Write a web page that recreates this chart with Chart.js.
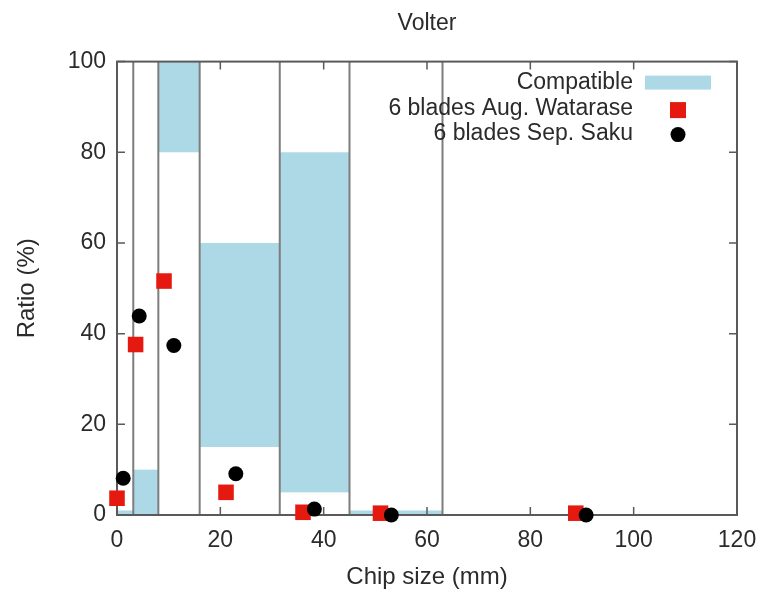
<!DOCTYPE html>
<html>
<head>
<meta charset="utf-8">
<script src="https://cdn.jsdelivr.net/npm/chart.js@4"></script>
<style>
  html, body { margin: 0; padding: 0; background: #fff; }
  #wrap { width: 765px; height: 593px; }
</style>
</head>
<body>
<div id="wrap"><canvas id="chip-ratio"></canvas></div>
<script>
// chip size classes (mm) and the "compatible" band for each class
const binEdges = [0, 3.15, 8, 16, 31.5, 45, 63];
const compatibleLow = [0, 0, 80, 15, 5, 0];
const compatibleHigh = [1, 10, 100, 60, 80, 1];

const watarseX = [0, 3.6, 9.1, 21.1, 36, 51, 88.8];
const watarseY = [3.7, 37.6, 51.6, 5.0, 0.6, 0.4, 0.4];
const sakuX = [1.2, 4.3, 11, 23, 38.2, 53.1, 90.8];
const sakuY = [8.1, 43.9, 37.4, 9.1, 1.3, 0, 0];

const xTicks = [0, 20, 40, 60, 80, 100, 120];
const yTicks = [0, 20, 40, 60, 80, 100];

const FONT = '"Liberation Sans", Arial, Helvetica, sans-serif';
const TEXT = '#2b2b2b';
const BLUE = '#add8e6';
const RED = '#e5190f';

const toPoints = (xs, ys) => xs.map((x, i) => ({ x: x, y: ys[i] }));

const bandsPlugin = {
  id: 'bands',
  beforeDatasetsDraw(chart) {
    const { ctx, chartArea, scales } = chart;
    const x = scales.x, y = scales.y;
    ctx.save();
    // compatible ranges
    ctx.fillStyle = BLUE;
    for (let i = 0; i < compatibleLow.length; i++) {
      const x0 = x.getPixelForValue(binEdges[i]);
      const x1 = x.getPixelForValue(binEdges[i + 1]);
      const y0 = y.getPixelForValue(compatibleHigh[i]);
      const y1 = y.getPixelForValue(compatibleLow[i]);
      ctx.fillRect(x0, y0, x1 - x0, y1 - y0);
    }
    // class boundaries
    ctx.strokeStyle = '#7d7d7d';
    ctx.lineWidth = 2;
    binEdges.slice(1).forEach((edge) => {
      const px = x.getPixelForValue(edge);
      ctx.beginPath();
      ctx.moveTo(px, chartArea.top);
      ctx.lineTo(px, chartArea.bottom);
      ctx.stroke();
    });
    // frame + inward ticks, gnuplot style
    ctx.strokeStyle = '#5a5a5a';
    ctx.strokeRect(chartArea.left, chartArea.top, chartArea.right - chartArea.left, chartArea.bottom - chartArea.top);
    ctx.lineWidth = 1.5;
    xTicks.forEach((v) => {
      const px = x.getPixelForValue(v);
      ctx.beginPath();
      ctx.moveTo(px, chartArea.bottom); ctx.lineTo(px, chartArea.bottom - 8);
      ctx.moveTo(px, chartArea.top); ctx.lineTo(px, chartArea.top + 8);
      ctx.stroke();
    });
    yTicks.forEach((v) => {
      const py = y.getPixelForValue(v);
      ctx.beginPath();
      ctx.moveTo(chartArea.left, py); ctx.lineTo(chartArea.left + 8, py);
      ctx.moveTo(chartArea.right, py); ctx.lineTo(chartArea.right - 8, py);
      ctx.stroke();
    });
    ctx.restore();
  }
};

const keyPlugin = {
  id: 'key',
  afterDatasetsDraw(chart) {
    const { ctx, chartArea } = chart;
    const textRight = chartArea.right - 104;
    const symX = chartArea.right - 59;
    const rows = [chartArea.top + 21, chartArea.top + 47, chartArea.top + 72];
    ctx.save();
    ctx.font = '23px ' + FONT;
    ctx.fillStyle = TEXT;
    ctx.textAlign = 'right';
    ctx.textBaseline = 'middle';
    ctx.fillText('Compatible', textRight, rows[0]);
    chart.data.datasets.slice().sort((a, b) => a.keyRow - b.keyRow).forEach((ds) => {
      ctx.fillStyle = TEXT;
      ctx.fillText(ds.label, textRight, rows[ds.keyRow]);
    });
    ctx.fillStyle = BLUE;
    ctx.fillRect(symX - 33, rows[0] - 7, 66, 14);
    ctx.fillStyle = RED;
    ctx.fillRect(symX - 8, rows[1] + 1.5 - 8, 16, 16);
    ctx.fillStyle = '#000';
    ctx.beginPath();
    ctx.arc(symX, rows[2] + 1, 7.5, 0, Math.PI * 2);
    ctx.fill();
    ctx.restore();
  }
};

const ctx = document.getElementById('chip-ratio').getContext('2d');
const chart = new Chart(ctx, {
  type: 'scatter',
  data: {
    datasets: [
      {
        label: '6 blades Aug. Watarase',
        keyRow: 1,
        data: toPoints(watarseX, watarseY),
        pointStyle: 'rect',
        pointRadius: 11,
        backgroundColor: RED,
        borderWidth: 0,
        order: 2,
        clip: false
      },
      {
        label: '6 blades Sep. Saku',
        keyRow: 2,
        data: toPoints(sakuX, sakuY),
        pointStyle: 'circle',
        pointRadius: 7.5,
        backgroundColor: '#000',
        borderWidth: 0,
        order: 1,
        clip: false
      }
    ]
  },
  options: {
    responsive: true,
    maintainAspectRatio: false,
    animation: false,
    layout: { padding: { left: 0, right: 28, top: 0, bottom: 0 } },
    scales: {
      x: {
        type: 'linear',
        min: 0,
        max: 120,
        afterBuildTicks: (scale) => { scale.ticks = xTicks.map((v) => ({ value: v })); },
        afterFit: (scale) => {
          scale.height = 78;
          scale.paddingLeft = 0;
          scale.paddingRight = 0;
        },
        grid: { display: false, drawTicks: false },
        border: { display: false },
        ticks: { color: TEXT, font: { family: FONT, size: 23 }, padding: 12, maxRotation: 0 },
        title: {
          display: true,
          text: 'Chip size (mm)',
          color: TEXT,
          font: { family: FONT, size: 24 },
          padding: { top: 4, bottom: 1 }
        }
      },
      y: {
        type: 'linear',
        min: 0,
        max: 100,
        afterBuildTicks: (scale) => { scale.ticks = yTicks.map((v) => ({ value: v })); },
        afterFit: (scale) => { scale.width = 117; },
        grid: { display: false, drawTicks: false },
        border: { display: false },
        ticks: { color: TEXT, font: { family: FONT, size: 23 }, padding: 11 },
        title: {
          display: true,
          text: 'Ratio (%)',
          color: TEXT,
          font: { family: FONT, size: 24 },
          padding: { top: 13, bottom: 4 }
        }
      }
    },
    plugins: {
      legend: { display: false },
      tooltip: { enabled: false },
      title: {
        display: true,
        text: 'Volter',
        fullSize: false,
        color: TEXT,
        font: { family: FONT, size: 23, weight: 'normal' },
        padding: { top: 10, bottom: 24 }
      }
    }
  },
  plugins: [bandsPlugin, keyPlugin]
});
</script>
</body>
</html>
